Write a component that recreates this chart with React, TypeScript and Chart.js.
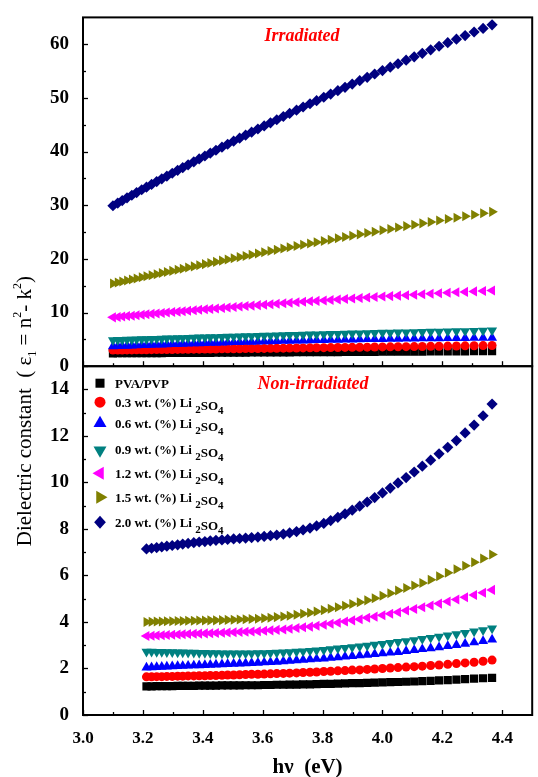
import { useEffect, useRef } from "react";
import { Chart, registerables } from "chart.js";

Chart.register(...registerables);

const FONT = '"Liberation Serif", "Times New Roman", serif';

// Photon energy grid (eV)
const energyIrr = [
  3.100, 3.116, 3.131, 3.147, 3.163, 3.179, 3.196, 3.212, 3.229, 3.246,
  3.263, 3.280, 3.298, 3.316, 3.333, 3.351, 3.370, 3.388, 3.407, 3.425,
  3.444, 3.464, 3.483, 3.503, 3.523, 3.543, 3.563, 3.584, 3.605, 3.626,
  3.647, 3.669, 3.690, 3.713, 3.735, 3.758, 3.780, 3.804, 3.827, 3.851,
  3.875, 3.899, 3.924, 3.949, 3.974, 4.000, 4.026, 4.052, 4.079, 4.106,
  4.133, 4.161, 4.189, 4.218, 4.247, 4.276, 4.306, 4.336, 4.366,
];
const energyNon = [
  3.212, 3.229, 3.246,
  3.263, 3.280, 3.298, 3.316, 3.333, 3.351, 3.370, 3.388, 3.407, 3.425,
  3.444, 3.464, 3.483, 3.503, 3.523, 3.543, 3.563, 3.584, 3.605, 3.626,
  3.647, 3.669, 3.690, 3.713, 3.735, 3.758, 3.780, 3.804, 3.827, 3.851,
  3.875, 3.899, 3.924, 3.949, 3.974, 4.000, 4.026, 4.052, 4.079, 4.106,
  4.133, 4.161, 4.189, 4.218, 4.247, 4.276, 4.306, 4.336, 4.366,
];

// Irradiated films: ε1
const irrPVA = [
  2.40, 2.41, 2.41, 2.42, 2.42, 2.43, 2.43, 2.44, 2.44, 2.45,
  2.45, 2.46, 2.46, 2.47, 2.47, 2.48, 2.49, 2.49, 2.50, 2.50,
  2.51, 2.52, 2.52, 2.53, 2.54, 2.54, 2.55, 2.55, 2.56, 2.57,
  2.58, 2.58, 2.59, 2.60, 2.60, 2.61, 2.62, 2.63, 2.63, 2.64,
  2.65, 2.66, 2.66, 2.67, 2.68, 2.69, 2.70, 2.70, 2.71, 2.72,
  2.73, 2.74, 2.75, 2.76, 2.77, 2.78, 2.79, 2.80, 2.81,
];
const irr03 = [
  3.00, 3.01, 3.02, 3.03, 3.04, 3.05, 3.06, 3.07, 3.08, 3.09,
  3.10, 3.11, 3.12, 3.13, 3.14, 3.15, 3.17, 3.18, 3.19, 3.20,
  3.21, 3.23, 3.24, 3.25, 3.26, 3.28, 3.29, 3.30, 3.32, 3.33,
  3.35, 3.36, 3.37, 3.39, 3.41, 3.42, 3.44, 3.45, 3.47, 3.48,
  3.50, 3.52, 3.53, 3.55, 3.57, 3.59, 3.61, 3.63, 3.64, 3.66,
  3.68, 3.70, 3.72, 3.75, 3.77, 3.79, 3.81, 3.84, 3.86,
];
const irr06 = [
  3.70, 3.74, 3.77, 3.80, 3.84, 3.87, 3.91, 3.94, 3.97, 4.01,
  4.04, 4.07, 4.11, 4.14, 4.17, 4.20, 4.24, 4.27, 4.30, 4.34,
  4.37, 4.40, 4.43, 4.47, 4.50, 4.53, 4.56, 4.59, 4.62, 4.65,
  4.68, 4.71, 4.74, 4.77, 4.79, 4.82, 4.85, 4.88, 4.90, 4.93,
  4.95, 4.98, 5.00, 5.03, 5.05, 5.07, 5.09, 5.11, 5.14, 5.15,
  5.17, 5.19, 5.21, 5.22, 5.24, 5.25, 5.26, 5.27, 5.28,
];
const irr09 = [
  4.85, 4.88, 4.91, 4.93, 4.96, 4.99, 5.02, 5.05, 5.08, 5.11,
  5.14, 5.17, 5.20, 5.23, 5.25, 5.28, 5.32, 5.35, 5.38, 5.40,
  5.43, 5.47, 5.50, 5.53, 5.56, 5.59, 5.62, 5.65, 5.68, 5.71,
  5.75, 5.78, 5.81, 5.84, 5.87, 5.91, 5.94, 5.97, 6.00, 6.03,
  6.07, 6.10, 6.13, 6.17, 6.20, 6.23, 6.26, 6.29, 6.32, 6.36,
  6.39, 6.42, 6.45, 6.49, 6.52, 6.55, 6.58, 6.62, 6.65,
];
const irr12 = [
  9.10, 9.18, 9.26, 9.34, 9.42, 9.50, 9.59, 9.67, 9.75, 9.83,
  9.92, 10.00, 10.09, 10.17, 10.25, 10.34, 10.43, 10.51, 10.60, 10.68,
  10.76, 10.85, 10.94, 11.03, 11.12, 11.20, 11.29, 11.38, 11.47, 11.55,
  11.64, 11.73, 11.82, 11.91, 12.00, 12.09, 12.17, 12.26, 12.35, 12.44,
  12.53, 12.62, 12.71, 12.80, 12.89, 12.98, 13.06, 13.15, 13.24, 13.33,
  13.42, 13.50, 13.59, 13.68, 13.77, 13.85, 13.94, 14.02, 14.11,
];
const irr15 = [
  15.40, 15.60, 15.78, 15.97, 16.17, 16.36, 16.56, 16.75, 16.95, 17.15,
  17.35, 17.55, 17.76, 17.97, 18.17, 18.38, 18.60, 18.81, 19.02, 19.23,
  19.44, 19.67, 19.88, 20.11, 20.33, 20.55, 20.77, 21.00, 21.23, 21.46,
  21.68, 21.92, 22.15, 22.39, 22.62, 22.86, 23.09, 23.35, 23.58, 23.83,
  24.07, 24.32, 24.57, 24.82, 25.07, 25.33, 25.58, 25.84, 26.10, 26.36,
  26.62, 26.88, 27.14, 27.42, 27.68, 27.95, 28.22, 28.49, 28.76,
];
const irr20 = [
  29.90, 30.40, 30.87, 31.37, 31.86, 32.35, 32.88, 33.36, 33.88, 34.40,
  34.91, 35.42, 35.96, 36.50, 37.00, 37.53, 38.09, 38.62, 39.17, 39.70,
  40.24, 40.82, 41.36, 41.93, 42.49, 43.06, 43.62, 44.20, 44.78, 45.36,
  45.93, 46.53, 47.10, 47.72, 48.30, 48.91, 49.49, 50.12, 50.72, 51.34,
  51.96, 52.57, 53.20, 53.83, 54.45, 55.09, 55.73, 56.36, 57.02, 57.66,
  58.30, 58.96, 59.62, 60.29, 60.95, 61.61, 62.28, 62.95, 63.61,
];

// Non-irradiated films: ε1
const nonPVA = [
  1.23, 1.23, 1.24, 1.24, 1.24, 1.24, 1.25, 1.25, 1.25, 1.25,
  1.26, 1.26, 1.26, 1.26, 1.27, 1.27, 1.27, 1.27, 1.28, 1.28,
  1.28, 1.29, 1.29, 1.30, 1.30, 1.31, 1.31, 1.32, 1.32, 1.33,
  1.34, 1.34, 1.35, 1.36, 1.37, 1.37, 1.38, 1.39, 1.40, 1.41,
  1.42, 1.43, 1.44, 1.46, 1.47, 1.49, 1.50, 1.52, 1.54, 1.56,
  1.58, 1.60,
];
const non03 = [
  1.64, 1.64, 1.65, 1.65, 1.66, 1.66, 1.67, 1.67, 1.68, 1.68,
  1.69, 1.69, 1.70, 1.70, 1.71, 1.72, 1.72, 1.73, 1.74, 1.75,
  1.75, 1.76, 1.77, 1.78, 1.79, 1.80, 1.81, 1.83, 1.84, 1.85,
  1.87, 1.88, 1.90, 1.91, 1.93, 1.94, 1.96, 1.98, 2.00, 2.02,
  2.04, 2.06, 2.08, 2.10, 2.13, 2.15, 2.18, 2.21, 2.24, 2.27,
  2.31, 2.36,
];
const non06 = [
  2.04, 2.05, 2.06, 2.07, 2.08, 2.09, 2.10, 2.11, 2.12, 2.13,
  2.14, 2.15, 2.16, 2.17, 2.18, 2.19, 2.20, 2.21, 2.22, 2.23,
  2.24, 2.26, 2.27, 2.29, 2.31, 2.33, 2.35, 2.37, 2.39, 2.41,
  2.43, 2.46, 2.48, 2.51, 2.53, 2.56, 2.59, 2.62, 2.65, 2.68,
  2.71, 2.75, 2.79, 2.83, 2.87, 2.91, 2.96, 3.01, 3.06, 3.12,
  3.18, 3.24,
];
const non09 = [
  2.72, 2.72, 2.71, 2.71, 2.70, 2.70, 2.69, 2.69, 2.68, 2.68,
  2.67, 2.67, 2.66, 2.66, 2.65, 2.65, 2.65, 2.65, 2.65, 2.65,
  2.66, 2.66, 2.67, 2.68, 2.69, 2.70, 2.72, 2.74, 2.76, 2.78,
  2.80, 2.83, 2.86, 2.89, 2.92, 2.95, 2.98, 3.02, 3.06, 3.10,
  3.14, 3.18, 3.22, 3.27, 3.32, 3.37, 3.42, 3.48, 3.53, 3.59,
  3.65, 3.72,
];
const non12 = [
  3.40, 3.41, 3.42, 3.43, 3.44, 3.45, 3.46, 3.47, 3.48, 3.49,
  3.50, 3.51, 3.52, 3.53, 3.54, 3.55, 3.56, 3.57, 3.58, 3.59,
  3.60, 3.62, 3.64, 3.66, 3.68, 3.71, 3.74, 3.77, 3.80, 3.84,
  3.88, 3.92, 3.97, 4.02, 4.07, 4.12, 4.18, 4.23, 4.29, 4.35,
  4.42, 4.49, 4.56, 4.63, 4.71, 4.79, 4.88, 4.97, 5.06, 5.16,
  5.26, 5.38,
];
const non15 = [
  4.00, 4.01, 4.02, 4.02, 4.03, 4.03, 4.04, 4.04, 4.05, 4.05,
  4.06, 4.06, 4.07, 4.07, 4.08, 4.09, 4.10, 4.11, 4.12, 4.13,
  4.14, 4.16, 4.18, 4.21, 4.24, 4.27, 4.31, 4.35, 4.40, 4.45,
  4.51, 4.57, 4.63, 4.70, 4.77, 4.85, 4.93, 5.02, 5.13, 5.24,
  5.35, 5.46, 5.57, 5.68, 5.82, 5.97, 6.12, 6.27, 6.42, 6.57,
  6.73, 6.90,
];
const non20 = [
  7.14, 7.17, 7.20, 7.23, 7.26, 7.29, 7.32, 7.35, 7.38, 7.41,
  7.44, 7.46, 7.49, 7.51, 7.53, 7.55, 7.57, 7.59, 7.61, 7.63,
  7.65, 7.68, 7.71, 7.74, 7.78, 7.83, 7.89, 7.96, 8.04, 8.13,
  8.24, 8.36, 8.50, 8.65, 8.81, 8.98, 9.16, 9.35, 9.55, 9.76,
  9.98, 10.21, 10.45, 10.70, 10.96, 11.23, 11.51, 11.80, 12.13, 12.47,
  12.87, 13.37,
];

const sampleNames = [
  "PVA/PVP",
  "0.3 wt. (%) Li₂SO₄",
  "0.6 wt. (%) Li₂SO₄",
  "0.9 wt. (%) Li₂SO₄",
  "1.2 wt. (%) Li₂SO₄",
  "1.5 wt. (%) Li₂SO₄",
  "2.0 wt. (%) Li₂SO₄",
];
const sampleContent = ["", "0.3", "0.6", "0.9", "1.2", "1.5", "2.0"];
const irrSeries = [irrPVA, irr03, irr06, irr09, irr12, irr15, irr20];
const nonSeries = [nonPVA, non03, non06, non09, non12, non15, non20];

const xTicks = { min: 3.0, max: 4.5, step: 0.2 };
const yTopTicks = { min: 0, max: 65, step: 10 };
const yBotTicks = { min: 0, max: 15, step: 2 };

// marker look per sample
const colors = ["#000000", "#ff0000", "#0000ff", "#008080", "#ff00ff", "#808000", "#000080"];
const shapes = ["rect", "circle", "triangle", "triangle", "triangle", "triangle", "rectRot"];
const rotations = [0, 0, 0, 180, -90, 90, 0];
const radii = [5.8, 4.5, 5.8, 5.8, 5.8, 5.8, 5.6];

function drawMarker(ctx: CanvasRenderingContext2D, shape: string, rot: number, x: number, y: number, r: number) {
  ctx.beginPath();
  if (shape === "circle") {
    ctx.arc(x, y, r, 0, Math.PI * 2);
  } else if (shape === "rect") {
    const s = r * Math.SQRT1_2;
    ctx.rect(x - s, y - s, 2 * s, 2 * s);
  } else if (shape === "rectRot") {
    ctx.moveTo(x, y - r);
    ctx.lineTo(x + r * 0.9, y);
    ctx.lineTo(x, y + r);
    ctx.lineTo(x - r * 0.9, y);
    ctx.closePath();
  } else {
    let a = (rot * Math.PI) / 180;
    for (let k = 0; k < 3; k++) {
      const px = x + Math.sin(a) * r;
      const py = y - Math.cos(a) * r;
      if (k === 0) ctx.moveTo(px, py);
      else ctx.lineTo(px, py);
      a += (2 * Math.PI) / 3;
    }
    ctx.closePath();
  }
  ctx.fill();
}

type Piece = { t: string; size: number; dy: number; weight?: string; style?: string };

function drawPieces(ctx: CanvasRenderingContext2D, pieces: Piece[], x: number, y: number, align: "left" | "center") {
  const widths = pieces.map((p) => {
    ctx.font = `${p.style || ""} ${p.weight || ""} ${p.size}px ${FONT}`;
    return ctx.measureText(p.t).width;
  });
  const total = widths.reduce((a, b) => a + b, 0);
  let cx = align === "center" ? x - total / 2 : x;
  ctx.textAlign = "left";
  ctx.textBaseline = "alphabetic";
  pieces.forEach((p, i) => {
    ctx.font = `${p.style || ""} ${p.weight || ""} ${p.size}px ${FONT}`;
    ctx.fillText(p.t, cx, y + p.dy);
    cx += widths[i];
  });
}

const panelDecor = {
  id: "panelDecor",
  afterDatasetsDraw(chart: any) {
    const ctx: CanvasRenderingContext2D = chart.ctx;
    const { left, right } = chart.chartArea;
    const xs = chart.scales.x;
    const yT = chart.scales.yTop;
    const yB = chart.scales.yBot;
    ctx.save();
    ctx.fillStyle = "#000";
    ctx.strokeStyle = "#000";

    // inward tick marks
    ctx.lineWidth = 1.3;
    const yTick = (scale: any, step: number) => {
      const vals = scale.ticks.map((t: any) => t.value);
      vals.forEach((v: number) => {
        const py = Math.round(scale.getPixelForValue(v)) + 0.5;
        ctx.beginPath(); ctx.moveTo(left, py); ctx.lineTo(left + 5, py); ctx.stroke();
        const mv = v + step / 2;
        if (mv < scale.max) {
          const my = Math.round(scale.getPixelForValue(mv)) + 0.5;
          ctx.beginPath(); ctx.moveTo(left, my); ctx.lineTo(left + 3, my); ctx.stroke();
        }
      });
    };
    yTick(yT, yTopTicks.step);
    yTick(yB, yBotTicks.step);
    const xVals = xs.ticks.map((t: any) => t.value);
    [yT.bottom, yB.bottom].forEach((base: number) => {
      xVals.forEach((v: number) => {
        const px = Math.round(xs.getPixelForValue(v)) + 0.5;
        ctx.beginPath(); ctx.moveTo(px, base); ctx.lineTo(px, base - 5); ctx.stroke();
        const mv = v + xTicks.step / 2;
        if (mv < xs.max - 1e-6) {
          const mx = Math.round(xs.getPixelForValue(mv)) + 0.5;
          ctx.beginPath(); ctx.moveTo(mx, base); ctx.lineTo(mx, base - 3); ctx.stroke();
        }
      });
    });

    // panel frames
    ctx.lineWidth = 2;
    ctx.strokeRect(left, yT.top, right - left, yT.bottom - yT.top);
    ctx.strokeRect(left, yB.top, right - left, yB.bottom - yB.top);

    // panel captions
    ctx.fillStyle = "#ff0000";
    drawPieces(ctx, [{ t: "Irradiated", size: 18, dy: 0, weight: "bold", style: "italic" }], 302, yT.top + 24, "center");
    drawPieces(ctx, [{ t: "Non-irradiated", size: 18, dy: 0, weight: "bold", style: "italic" }], 313, yB.top + 23, "center");

    // legend inside the lower panel
    const rowY = [17, 36, 57, 83, 107, 131, 156];
    const legendR = [6.4, 5.5, 7.5, 7.5, 7.5, 7.5, 6.5];
    sampleContent.forEach((c, i) => {
      const y = yB.top + rowY[i];
      ctx.fillStyle = colors[i];
      drawMarker(ctx, shapes[i], rotations[i], 100, y + (i === 3 ? 1 : 0), legendR[i]);
      ctx.fillStyle = "#000";
      const base = y + 4.5;
      if (c === "") {
        drawPieces(ctx, [{ t: "PVA/PVP", size: 13, dy: 0, weight: "bold" }], 115, base, "left");
      } else {
        drawPieces(
          ctx,
          [
            { t: `${c} wt. (%) Li `, size: 13, dy: 0, weight: "bold" },
            { t: "2", size: 11, dy: 6, weight: "bold" },
            { t: "SO", size: 13, dy: 3, weight: "bold" },
            { t: "4", size: 11, dy: 7, weight: "bold" },
          ],
          115,
          base,
          "left"
        );
      }
    });

    // y-axis title spanning both panels
    ctx.fillStyle = "#000";
    ctx.translate(24, yT.bottom + 45);
    ctx.rotate(-Math.PI / 2);
    drawPieces(
      ctx,
      [
        { t: "Dielectric constant  ( ε", size: 21, dy: 0 },
        { t: "1", size: 12, dy: 5 },
        { t: " = n", size: 21, dy: 0 },
        { t: "2", size: 12, dy: -10 },
        { t: "- k", size: 21, dy: 0 },
        { t: "2", size: 12, dy: -10 },
        { t: ")", size: 21, dy: 0 },
      ],
      0,
      7,
      "center"
    );
    ctx.restore();
  },
};

export default function App() {
  const ref = useRef<HTMLCanvasElement>(null);

  useEffect(() => {
    const canvas = ref.current;
    if (!canvas) return;

    const datasets: any[] = [];
    irrSeries.forEach((vals, i) => {
      datasets.push({
        label: `${sampleNames[i]} (irradiated)`,
        data: vals.map((v, k) => ({ x: energyIrr[k], y: v })),
        yAxisID: "yTop",
        pointStyle: shapes[i],
        rotation: rotations[i],
        pointRadius: radii[i],
        backgroundColor: colors[i],
        borderColor: colors[i],
        borderWidth: 0,
        order: 10 - i,
      });
    });
    nonSeries.forEach((vals, i) => {
      datasets.push({
        label: sampleNames[i],
        data: vals.map((v, k) => ({ x: energyNon[k], y: v })),
        yAxisID: "yBot",
        pointStyle: shapes[i],
        rotation: rotations[i],
        pointRadius: radii[i],
        backgroundColor: colors[i],
        borderColor: colors[i],
        borderWidth: 0,
        order: 10 - i,
      });
    });

    const tickFont = { family: FONT, size: 19, weight: "bold" as const };

    const chart = new Chart(canvas, {
      type: "scatter",
      data: { datasets },
      plugins: [panelDecor],
      options: {
        animation: false,
        responsive: false,
        devicePixelRatio: 1,
        layout: { padding: { left: 8, right: 1, top: 15, bottom: 0 } },
        plugins: { legend: { display: false }, tooltip: { enabled: false } },
        elements: { point: { hoverRadius: 0 } },
        scales: {
          x: {
            type: "linear",
            position: "bottom",
            min: xTicks.min,
            max: xTicks.max,
            grid: { display: false },
            border: { display: false },
            ticks: {
              stepSize: xTicks.step,
              includeBounds: false,
              color: "#000",
              padding: 5,
              font: { family: FONT, size: 17, weight: "bold" },
              callback: (v: any) => Number(v).toFixed(1),
            },
            title: {
              display: true,
              text: "hν  (eV)",
              color: "#000",
              font: { family: FONT, size: 21, weight: "bold" },
              padding: { top: 4, bottom: -3 },
            },
            afterFit: (s: any) => { s.height = 62; },
          },
          yTop: {
            type: "linear",
            position: "left",
            stack: "panels",
            stackWeight: 1,
            weight: 2,
            min: yTopTicks.min,
            max: yTopTicks.max,
            grid: { display: false },
            border: { display: false },
            ticks: { stepSize: yTopTicks.step, includeBounds: false, color: "#000", padding: 6, font: tickFont },
            afterFit: (s: any) => { s.width = 75; },
          },
          yBot: {
            type: "linear",
            position: "left",
            stack: "panels",
            stackWeight: 1,
            weight: 1,
            min: yBotTicks.min,
            max: yBotTicks.max,
            grid: { display: false },
            border: { display: false },
            ticks: { stepSize: yBotTicks.step, includeBounds: false, color: "#000", padding: 6, font: tickFont },
            afterFit: (s: any) => { s.width = 75; },
          },
        } as any,
      },
    });

    return () => chart.destroy();
  }, []);

  return (
    <div style={{ position: "absolute", left: 0, top: 0, width: 538, height: 777, background: "#fff" }}>
      <canvas ref={ref} width={538} height={777} style={{ display: "block" }} />
    </div>
  );
}
